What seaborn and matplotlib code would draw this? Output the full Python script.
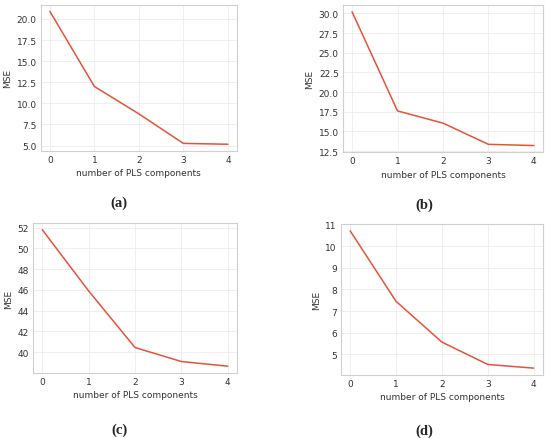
import matplotlib
matplotlib.use("Agg")
import numpy as np
import pandas as pd
import seaborn as sns
from matplotlib import pyplot as plt

components = [0, 1, 2, 3, 4]
mse_a = [20.9, 12.0, 8.75, 5.25, 5.15]
mse_b = [30.2, 17.6, 16.05, 13.35, 13.2]
mse_c = [51.8, 45.9, 40.45, 39.1, 38.65]
mse_d = [10.7, 7.45, 5.57, 4.54, 4.37]
captions = ["(a)", "(b)", "(c)", "(d)"]

yticks = {
    "(a)": [5.0, 7.5, 10.0, 12.5, 15.0, 17.5, 20.0],
    "(b)": [12.5, 15.0, 17.5, 20.0, 22.5, 25.0, 27.5, 30.0],
    "(c)": [40, 42, 44, 46, 48, 50, 52],
    "(d)": [5, 6, 7, 8, 9, 10, 11],
}

sns.set_theme(style="whitegrid", rc={
    "axes.edgecolor": "#d0d0d0",
    "grid.color": "#ececec",
    "axes.linewidth": 0.8,
    "grid.linewidth": 0.6,
    "xtick.color": "#333333",
    "ytick.color": "#333333",
    "axes.labelcolor": "#333333",
})
plt.rcParams["font.family"] = ["DejaVu Sans"]

fig = plt.figure(figsize=(5.5, 4.39), dpi=100)

boxes = [
    [0.0745, 0.654, 0.356, 0.333],
    [0.6236, 0.651, 0.3636, 0.335],
    [0.060, 0.148, 0.371, 0.342],
    [0.620, 0.1435, 0.367, 0.344],
]
caption_pos = [(0.216, 0.537), (0.771, 0.533), (0.218, 0.021), (0.771, 0.018)]

for box, values, cap, cpos in zip(boxes, [mse_a, mse_b, mse_c, mse_d], captions, caption_pos):
    ax = fig.add_axes(box)
    df = pd.DataFrame({"n": components, "mse": values})
    sns.lineplot(data=df, x="n", y="mse", ax=ax, color="#e5533a", linewidth=1.1)
    ax.set_xticks(components)
    ax.set_yticks(yticks[cap])
    if cap in ("(a)", "(b)"):
        ax.yaxis.set_major_formatter(matplotlib.ticker.FormatStrFormatter("%.1f"))
    ax.set_xlabel("number of PLS components", fontsize=6.5, labelpad=3)
    ax.set_ylabel("MSE", fontsize=6.5, labelpad=3)
    ax.tick_params(labelsize=6.5, pad=3, length=0)
    fig.text(cpos[0], cpos[1], cap, ha="center", va="center",
             fontsize=10.5, fontweight="bold", family="Liberation Serif")

fig.savefig("out.png", dpi=100)
